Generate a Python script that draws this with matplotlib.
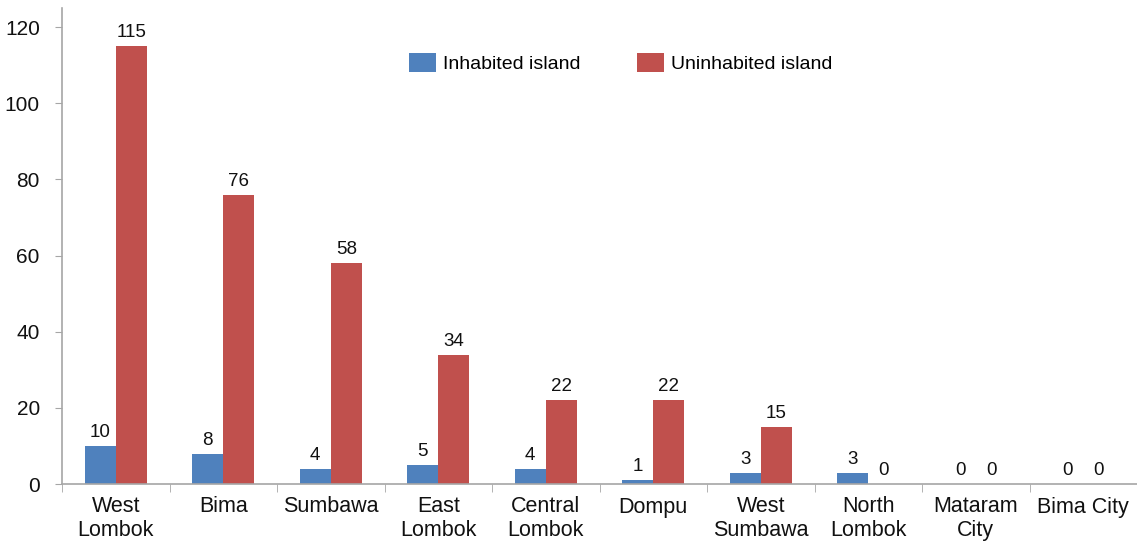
import matplotlib.pyplot as plt
import numpy as np

plt.rcParams['font.family'] = ['Liberation Sans', 'DejaVu Sans']

regencies = ['West\nLombok', 'Bima', 'Sumbawa', 'East\nLombok', 'Central\nLombok',
             'Dompu', 'West\nSumbawa', 'North\nLombok', 'Mataram\nCity', 'Bima City']
inhabited = [10, 8, 4, 5, 4, 1, 3, 3, 0, 0]
uninhabited = [115, 76, 58, 34, 22, 22, 15, 0, 0, 0]

blue = '#4F81BD'
red = '#C0504D'
grey = '#A6A6A6'

fig = plt.figure(figsize=(11.37, 5.46), dpi=100)
ax = fig.add_axes([62 / 1137, 1 - 484 / 546, 1 - 62 / 1137, (484 - 8) / 546])

x = np.arange(len(regencies))
w = 0.29
b1 = ax.bar(x - w / 2, inhabited, w, color=blue, label='Inhabited island')
b2 = ax.bar(x + w / 2, uninhabited, w, color=red, label='Uninhabited island')

for bars in (b1, b2):
    for bar in bars:
        h = bar.get_height()
        ax.text(bar.get_x() + bar.get_width() / 2, h + 1.3, f'{h:g}',
                ha='center', va='bottom', fontsize=13.5, color='#111111')

ax.set_xlim(-0.5, len(regencies) - 0.5)
ax.set_ylim(0, 125)
ax.set_yticks(range(0, 121, 20))
ax.set_xticks(x)
ax.set_xticklabels(regencies, fontsize=15.5, color='#111111', linespacing=1.15)
ax.tick_params(axis='y', labelsize=15, labelcolor='#111111', color=grey,
               length=5, pad=11)
ax.tick_params(axis='x', length=0, pad=9)

# category separators below the x axis
ax.set_xticks(np.arange(len(regencies) + 1) - 0.5, minor=True)
ax.tick_params(axis='x', which='minor', length=6, color=grey)

for side in ('top', 'right'):
    ax.spines[side].set_visible(False)
for side in ('left', 'bottom'):
    ax.spines[side].set_color(grey)
    ax.spines[side].set_linewidth(1.2)

ax.legend(loc='center', bbox_to_anchor=(0.52, 0.884), ncol=2, frameon=False,
          fontsize=14, handlelength=1.35, handleheight=1.1, columnspacing=2.9,
          handletextpad=0.4)

fig.savefig('out.png', dpi=100)
